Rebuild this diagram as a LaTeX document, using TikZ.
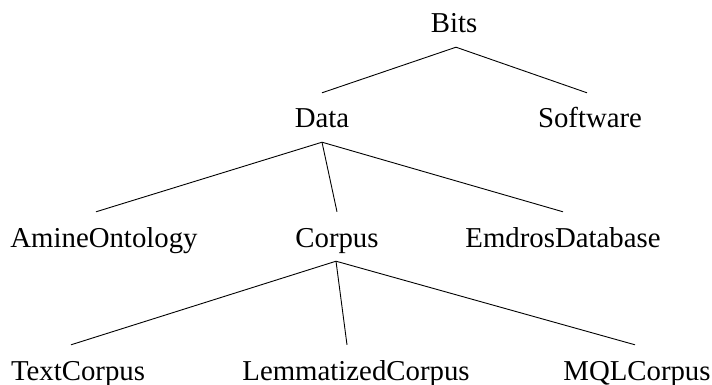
\documentclass[tikz,border=0pt]{standalone}
\usepackage{fontspec}
\setmainfont{Liberation Serif}
\begin{document}
\begin{tikzpicture}[x=1pt,y=-1pt,
  lbl/.style={anchor=base, inner xsep=0pt, inner ysep=14pt, text height=21pt, text depth=0pt,
    font=\fontsize{28.8}{34}\selectfont},
  edge/.style={draw=black, line width=0.9pt}]
\useasboundingbox (0,0) rectangle (712,385);
\node[lbl] (bits) at (454,33) {Bits};
\node[lbl] (data) at (322,128) {Data};
\node[lbl] (soft) at (590,128) {Software};
\node[lbl] (amine) at (104,247) {AmineOntology};
\node[lbl] (corpus) at (337,247) {Corpus};
\node[lbl] (emdros) at (563,247) {EmdrosDatabase};
\node[lbl] (text) at (78,380) {TextCorpus};
\node[lbl] (lemma) at (356,380) {LemmatizedCorpus};
\node[lbl] (mql) at (637,380) {MQLCorpus};
\draw[edge] ([xshift=2pt]bits.south) -- (data.north);
\draw[edge] ([xshift=2pt]bits.south) -- ([xshift=-3pt]soft.north);
\draw[edge] (data.south) -- ([xshift=-8pt]amine.north);
\draw[edge] (data.south) -- (corpus.north);
\draw[edge] (data.south) -- (emdros.north);
\draw[edge] ([xshift=-1pt]corpus.south) -- ([xshift=-7pt]text.north);
\draw[edge] ([xshift=-1pt]corpus.south) -- ([xshift=-9pt]lemma.north);
\draw[edge] ([xshift=-1pt]corpus.south) -- ([xshift=-2pt]mql.north);
\end{tikzpicture}
\end{document}
